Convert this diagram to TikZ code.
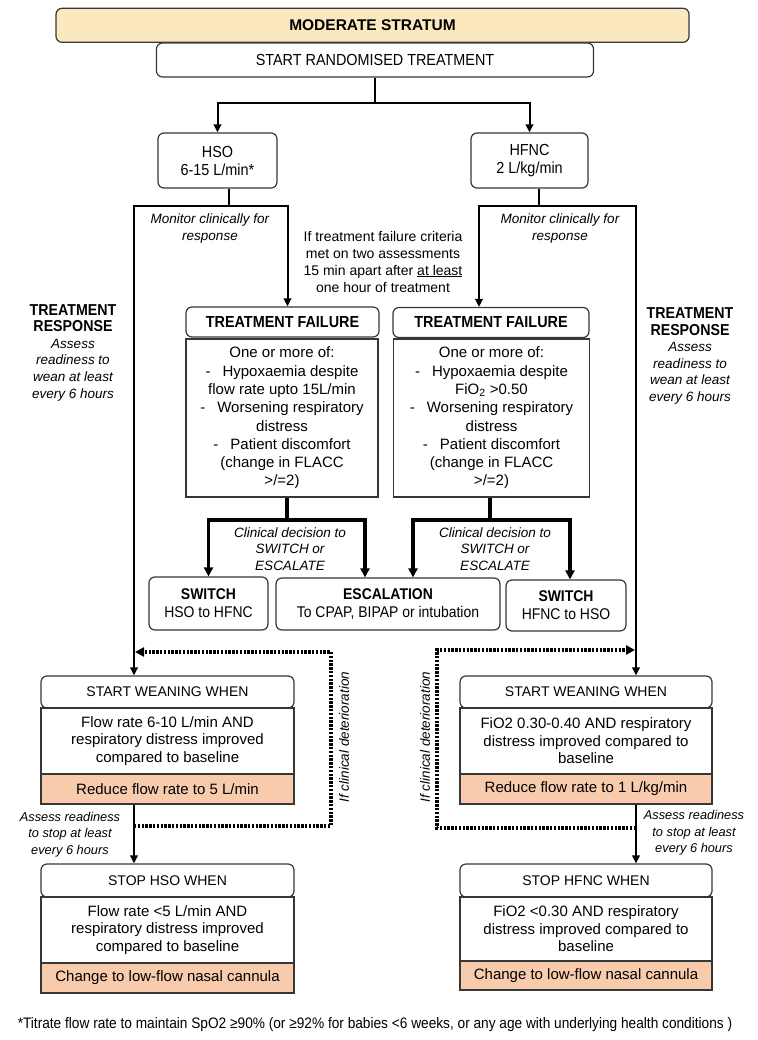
\documentclass[tikz,border=0pt]{standalone}
\usepackage{fontspec}
\setmainfont{Liberation Sans}
\newfontfamily\narrowfont{Liberation Sans}[FakeStretch=0.9]
\usetikzlibrary{arrows.meta}

\definecolor{sand}{RGB}{251,232,190}
\definecolor{peach}{RGB}{248,203,173}
\definecolor{edge}{RGB}{55,55,55}

\newcommand{\bodysize}{\fontsize{15}{18.3}\selectfont}
\newcommand{\wsize}{\fontsize{15}{17.5}\selectfont}
\newcommand{\labsize}{\fontsize{14}{17}\selectfont}
\newcommand{\itsize}{\fontsize{13.5}{16.6}\selectfont\itshape}
\newcommand{\smitsize}{\fontsize{12.8}{16.5}\selectfont\itshape}
\newcommand{\headsize}{\fontsize{16}{18}\selectfont\narrowfont}
\newcommand{\respsize}{\fontsize{15.8}{16.6}\selectfont\narrowfont\bfseries\upshape}

\begin{document}
\begin{tikzpicture}[x=1pt,y=1pt]
	\tikzstyle{every node}+=[inner sep=0pt]
	\tikzstyle{rbox}=[draw=edge, line width=1.2pt, rounded corners=6pt, fill=white, align=center]
	\tikzstyle{sbox}=[draw=edge, line width=1.2pt, fill=white, align=center]
	\tikzstyle{obox}=[sbox, fill=peach]
	\tikzstyle{rail}=[line width=2pt]
	\tikzstyle{arr}=[rail, -{Triangle[length=8pt,width=7.5pt]}]
	\tikzstyle{fork}=[line width=3.6pt, -{Triangle[length=9pt,width=9pt]}]
	\tikzstyle{dots}=[line width=3.2pt, dash pattern=on 2.4pt off 1.4pt, -{Triangle[length=9pt,width=9pt]}, shorten >=1pt]
	\useasboundingbox (0,0) rectangle (757,-1040);

	\node [rbox, fill=sand, minimum width=633, minimum height=34, font=\fontsize{15.5}{17}\selectfont\bfseries] (stratum) at (372.5,-25.3) {MODERATE STRATUM};
	\node [rbox, minimum width=437, minimum height=34, font=\headsize] (start) at (375,-60) {START RANDOMISED TREATMENT};
	\node [rbox, minimum width=119, minimum height=55, font=\headsize] (hso) at (217.5,-160.5) {HSO\\6-15 L/min*};
	\node [rbox, minimum width=117, minimum height=55, font=\headsize] (hfnc) at (529.5,-160.5) {HFNC\\2 L/kg/min};
	\draw [arr] (start.south) -- ++(0,-25) -| (hso.north);
	\draw [arr] (start.south) -- ++(0,-25) -| (hfnc.north);

	\node [font=\itsize, align=center] (monl) at (210,-228.5) {Monitor clinically for\\response};
	\node [font=\itsize, align=center] (monr) at (560,-228.5) {Monitor clinically for\\response};
	\node [font=\labsize, align=center] (crit) at (383,-261.5) {If treatment failure criteria\\met on two assessments\\15 min apart after \underline{at least}\\one hour of treatment};
	\node [font=\itsize, align=center] (respl) at (73,-352.5) {{\respsize TREATMENT}\\{\respsize RESPONSE}\\Assess\\readiness to\\wean at least\\every 6 hours};
	\node [font=\itsize, align=center] (respr) at (690,-356) {{\respsize TREATMENT}\\{\respsize RESPONSE}\\Assess\\readiness to\\wean at least\\every 6 hours};

	\node [rbox, minimum width=193, minimum height=30, font=\headsize\bfseries] (tflh) at (282.5,-322) {TREATMENT FAILURE};
	\node [sbox, minimum width=192, minimum height=158, font=\bodysize] (tflb) at (282,-418) {One or more of:\\-\hspace{0.8em}Hypoxaemia despite\\flow rate upto 15L/min\\-\hspace{0.8em}Worsening respiratory\\distress\\-\hspace{0.8em}Patient discomfort\\(change in FLACC\\>/=2)};
	\node [rbox, minimum width=196, minimum height=30, font=\headsize\bfseries] (tfrh) at (491,-322.5) {TREATMENT FAILURE};
	\node [sbox, minimum width=196, minimum height=158, font=\bodysize] (tfrb) at (491.5,-418) {One or more of:\\-\hspace{0.8em}Hypoxaemia despite\\FiO\textsubscript{2} >0.50\\-\hspace{0.8em}Worsening respiratory\\distress\\-\hspace{0.8em}Patient discomfort\\(change in FLACC\\>/=2)};

	\node [rbox, minimum width=119, minimum height=53, font=\fontsize{15.5}{18}\selectfont\narrowfont] (swl) at (208.5,-603.5) {\textbf{SWITCH}\\HSO to HFNC};
	\node [rbox, minimum width=224, minimum height=52, font=\fontsize{15.5}{18}\selectfont\narrowfont] (esc) at (388,-604) {\textbf{ESCALATION}\\To CPAP, BIPAP or intubation};
	\node [rbox, minimum width=120, minimum height=51, font=\fontsize{15.5}{18}\selectfont\narrowfont] (swr) at (566,-605.5) {\textbf{SWITCH}\\HFNC to HSO};
	\node [font=\itsize, align=center] (decl) at (290,-549) {Clinical decision to\\SWITCH or\\ESCALATE};
	\node [font=\itsize, align=center] (decr) at (495,-549) {Clinical decision to\\SWITCH or\\ESCALATE};

	\node [rbox, minimum width=253, minimum height=32, font=\labsize] (wlh) at (167.5,-692) {START WEANING WHEN};
	\node [sbox, minimum width=253, minimum height=66, font=\wsize] (wlb) at (167.5,-741) {Flow rate 6-10 L/min AND\\respiratory distress improved\\compared to baseline};
	\node [obox, minimum width=253, minimum height=30, font=\wsize] (wlo) at (167.5,-789) {Reduce flow rate to 5 L/min};
	\node [rbox, minimum width=252, minimum height=32, font=\labsize] (wrh) at (586,-692) {START WEANING WHEN};
	\node [sbox, minimum width=252, minimum height=66, font=\wsize] (wrb) at (586,-741) {FiO2 0.30-0.40 AND respiratory\\distress improved compared to\\baseline};
	\node [obox, minimum width=252, minimum height=30, font=\wsize] (wro) at (586,-789) {Reduce flow rate to 1 L/kg/min};

	\node [rbox, minimum width=253, minimum height=33, font=\labsize] (slh) at (167.5,-880.5) {STOP HSO WHEN};
	\node [sbox, minimum width=253, minimum height=66, font=\wsize] (slb) at (167.5,-930) {Flow rate <5 L/min AND\\respiratory distress improved\\compared to baseline};
	\node [obox, minimum width=253, minimum height=30, font=\wsize] (slo) at (167.5,-978) {Change to low-flow nasal cannula};
	\node [rbox, minimum width=252, minimum height=33, font=\labsize] (srh) at (586,-880.5) {STOP HFNC WHEN};
	\node [sbox, minimum width=252, minimum height=64, font=\wsize] (srb) at (586,-929) {FiO2 <0.30 AND respiratory\\distress improved compared to\\baseline};
	\node [obox, minimum width=252, minimum height=29, font=\wsize] (sro) at (586,-975.5) {Change to low-flow nasal cannula};

	\node [font=\smitsize, align=center] (asl) at (70,-834.5) {Assess readiness\\to stop at least\\every 6 hours};
	\node [font=\smitsize, align=center] (asr) at (694,-833) {Assess readiness\\to stop at least\\every 6 hours};
	\node [font=\itsize, rotate=90] (detl) at (344,-737) {If clinical deterioration};
	\node [font=\itsize, rotate=90] (detr) at (425,-737) {If clinical deterioration};

	\node [font=\fontsize{15.2}{17}\selectfont\narrowfont] (note) at (375,-1025) {*Titrate flow rate to maintain SpO2 ≥90\% (or ≥92\% for babies <6 weeks, or any age with underlying health conditions )};

	\coordinate (lsplit) at (229,-206);
	\coordinate (rsplit) at (539,-206);
	\coordinate (lrail) at (134,-206);
	\coordinate (rrail) at (636,-206);
	\draw [rail] (hso.south -| lsplit) -- (lsplit);
	\draw [rail] (hfnc.south -| rsplit) -- (rsplit);
	\draw [arr] (lsplit) -| ([xshift=5pt]tflh.north);
	\draw [arr] (lsplit) -| (wlh.north -| lrail);
	\draw [arr] (rsplit) -| ([xshift=-12pt]tfrh.north);
	\draw [arr] (rsplit) -| (wrh.north -| rrail);

	\coordinate (lfork) at (287,-520);
	\coordinate (rfork) at (490,-520);
	\draw [fork,-] (tflb.south -| lfork) -- (lfork);
	\draw [fork,-] (tfrb.south -| rfork) -- (rfork);
	\draw [fork] (lfork) -| (swl.north);
	\draw [fork] (lfork) -| ([xshift=-23pt]esc.north);
	\draw [fork] (rfork) -| ([xshift=25pt]esc.north);
	\draw [fork] (rfork) -| ([xshift=4pt]swr.north);

	\draw [arr] (wlo.south -| lrail) -- (slh.north -| lrail);
	\draw [arr] (wro.south -| rrail) -- (srh.north -| rrail);

	\coordinate (ldtop) at (134,-652);
	\coordinate (ldbot) at (134,-826);
	\coordinate (ldx) at (331,0);
	\coordinate (rdtop) at (636,-650);
	\coordinate (rdbot) at (636,-828);
	\coordinate (rdx) at (437,0);
	\draw [dots] (ldbot) -- (ldbot -| ldx) |- (ldtop);
	\draw [dots] (rdbot) -- (rdbot -| rdx) |- (rdtop);
\end{tikzpicture}
\end{document}
